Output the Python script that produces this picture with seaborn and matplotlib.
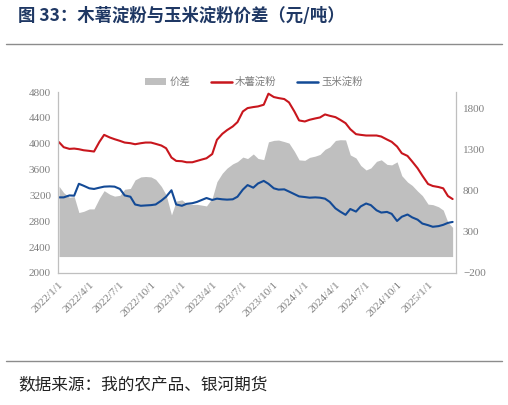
import pandas as pd
import numpy as np
import seaborn as sns
import matplotlib.pyplot as plt
from matplotlib.lines import Line2D
from matplotlib.patches import Patch
import matplotlib.ticker as mticker
import matplotlib.dates as mdates

# semi-monthly samples (yuan/ton)
dates = pd.date_range("2022-01-01", "2025-03-15", freq="SMS")

cassava = [4024, 3946, 3920, 3925, 3915, 3899, 3889, 3879, 4029, 4137,
           4096, 4070, 4044, 4018, 4008, 3992, 4008, 4018, 4018, 3998,
           3972, 3930, 3786, 3734, 3729, 3713, 3713, 3734, 3755, 3775,
           3840, 4060, 4153, 4210, 4267, 4334, 4499, 4551, 4567, 4577,
           4603, 4774, 4722, 4706, 4691, 4639, 4499, 4360, 4344, 4370,
           4391, 4406, 4453, 4432, 4411, 4370, 4318, 4225, 4148, 4137,
           4127, 4127, 4127, 4111, 4065, 4029, 3956, 3853, 3811, 3724,
           3620, 3506, 3377, 3346, 3330, 3310, 3191, 3144]

corn = [3170, 3170, 3200, 3196, 3380, 3350, 3310, 3300, 3320, 3336,
        3340, 3336, 3300, 3200, 3180, 3060, 3040, 3045, 3050, 3060,
        3120, 3180, 3280, 3060, 3040, 3070, 3080, 3100, 3130, 3160,
        3130, 3150, 3140, 3135, 3140, 3180, 3290, 3360, 3320, 3385,
        3425, 3380, 3310, 3290, 3294, 3260, 3220, 3185, 3175, 3165,
        3170, 3165, 3150, 3100, 3000, 2950, 2900, 2990, 2950, 3030,
        3075, 3050, 2970, 2935, 2945, 2915, 2805, 2870, 2905, 2860,
        2825, 2765, 2740, 2715, 2725, 2745, 2775, 2790]

df = pd.DataFrame({"date": dates, "cassava": cassava, "corn": corn})
df["spread"] = df["cassava"] - df["corn"]

left_ticks = list(range(2000, 4801, 400))
right_ticks = [-200, 300, 800, 1300, 1800]
x_ticks = pd.date_range("2022-01-01", "2025-01-01", freq="QS")

sns.set_style("white")
plt.rcParams['font.family'] = ['Noto Sans CJK SC', 'DejaVu Sans']

RED = "#C8161D"
BLUE = "#134A96"
GRAY = "#BFBFBF"
TXT = "#7F7F7F"

fig = plt.figure(figsize=(5.08, 4.05), dpi=100)
ax = fig.add_axes([58/508, 1-273/405, (456-58)/508, (273-92)/405])
ax2 = ax.twinx()

ax2.fill_between(df["date"], 0, df["spread"], color=GRAY, lw=0)
sns.lineplot(data=df, x="date", y="cassava", ax=ax, color=RED, linewidth=1.5)
sns.lineplot(data=df, x="date", y="corn", ax=ax, color=BLUE, linewidth=1.5)

ax.set_zorder(2)
ax2.set_zorder(1)
ax.patch.set_visible(False)

ax.set_xlim(pd.Timestamp("2021-12-29"), pd.Timestamp("2025-03-25"))
ax.set_ylim(2000, 4800)
ax2.set_ylim(-200, 2000)
ax.set_yticks(left_ticks)
ax2.set_yticks(right_ticks)
ax.set_xticks(x_ticks)
ax.xaxis.set_major_formatter(mticker.FuncFormatter(
    lambda v, p: (lambda d: f"{d.year}/{d.month}/{d.day}")(mdates.num2date(v))))
ax.set_xlabel("")
ax.set_ylabel("")
ax2.set_ylabel("")

for a in (ax, ax2):
    a.tick_params(length=0, labelsize=8, labelcolor=TXT, pad=5)
    for s in a.spines.values():
        s.set_visible(False)
    for lab in a.get_xticklabels() + a.get_yticklabels():
        lab.set_family("Liberation Serif")
ax.spines["left"].set_visible(True)
ax.spines["bottom"].set_visible(True)
ax2.spines["right"].set_visible(True)
for s in (ax.spines["left"], ax.spines["bottom"], ax2.spines["right"]):
    s.set_color("#BFBFBF")
    s.set_linewidth(0.9)

for lab in ax.get_xticklabels():
    lab.set_rotation(45)
    lab.set_ha("right")
    lab.set_rotation_mode("anchor")
    lab.set_fontsize(8)

handles = [Patch(facecolor=GRAY, edgecolor="none"),
           Line2D([], [], color=RED, lw=1.8),
           Line2D([], [], color=BLUE, lw=1.8)]
fig.legend(handles, ["价差", "木薯淀粉", "玉米淀粉"], loc="center",
           bbox_to_anchor=(0.5, 1-82/405), ncol=3, frameon=False,
           fontsize=7.5, labelcolor=TXT, handlelength=2.0, handleheight=0.6,
           columnspacing=2.0, handletextpad=0.3)

fig.text(18/508, 1-16/405, "图 33：木薯淀粉与玉米淀粉价差（元/吨）", fontsize=12.5,
         color="#1F3864", fontweight="bold", va="center", ha="left")
fig.text(18/508, 1-385/405, "数据来源：我的农产品、银河期货", fontsize=12,
         color="#222222", va="center", ha="left")
fig.add_artist(Line2D([6/508, 502/508], [1-44/405]*2, color="#8C8C8C", lw=1))
fig.add_artist(Line2D([6/508, 502/508], [1-361/405]*2, color="#8C8C8C", lw=1))

fig.savefig("out.png", dpi=100)
